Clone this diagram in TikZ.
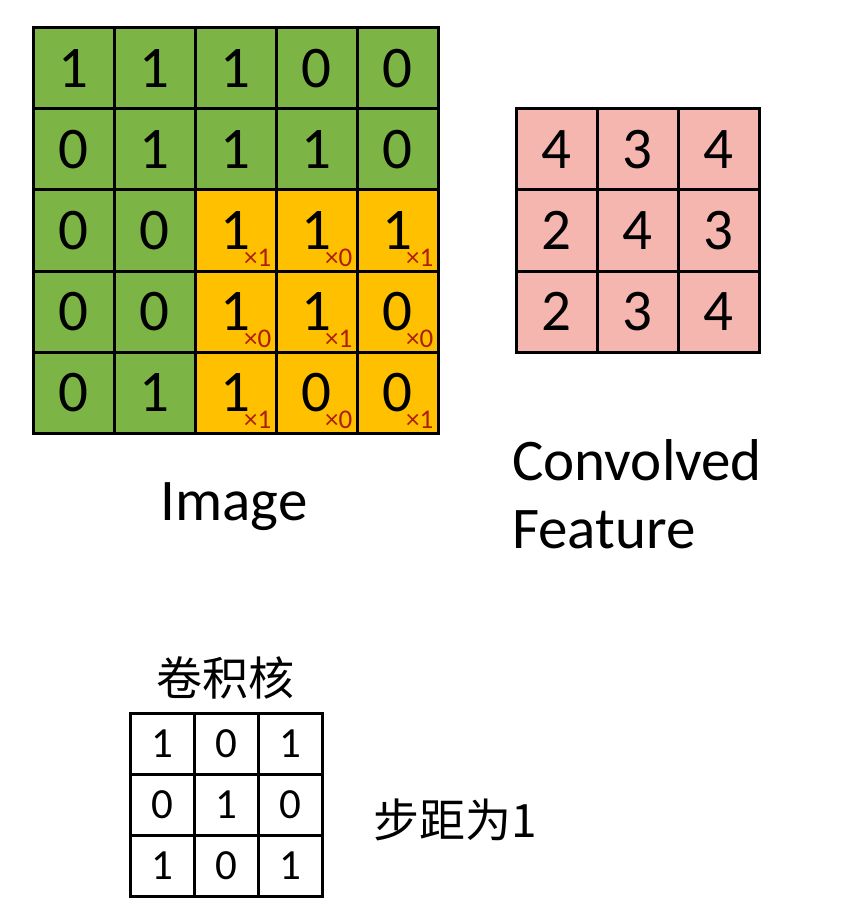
\documentclass[tikz,border=0pt]{standalone}
\usepackage{fontspec}
\setmainfont{Carlito}
\newfontfamily\cjk{Noto Sans CJK SC}
\definecolor{imggreen}{RGB}{124,181,70}
\definecolor{imgorange}{RGB}{255,192,0}
\definecolor{convpink}{RGB}{246,182,176}
\definecolor{subred}{RGB}{175,30,10}
\tikzset{
  bigcell/.style={draw=black, line width=3pt, minimum width=81pt, minimum height=81pt,
    inner sep=0pt, font=\fontsize{59}{59}\selectfont},
  kcell/.style={draw=black, line width=3pt, minimum width=64.3pt, minimum height=61pt,
    inner sep=0pt, font=\fontsize{43}{43}\selectfont},
  subtxt/.style={inner sep=0pt, text=subred, font=\fontsize{27}{27}\selectfont},
  labeltxt/.style={inner sep=0pt, font=\fontsize{59}{59}\selectfont},
  cjktxt/.style={inner sep=0pt, font=\cjk\fontsize{46}{46}\selectfont}
}
\begin{document}
\begin{tikzpicture}[x=1pt,y=-1pt]
\useasboundingbox[fill=white] (0,0) rectangle (846,909);
% Image grid
\foreach \row/\vals in {0/{1,1,1,0,0},1/{0,1,1,1,0},2/{0,0,1,1,1},3/{0,0,1,1,0},4/{0,1,1,0,0}}{
  \foreach \v [count=\c from 0] in \vals {
    \pgfmathtruncatemacro{\orng}{(\row>1)&&(\c>1)}
    \ifnum\orng=1 \def\fc{imgorange}\else\def\fc{imggreen}\fi
    \node[bigcell, fill=\fc] (img-\row-\c) at ({33+81*\c+40.5},{28+81*\row+40.5}) {\v};
  }
}
% kernel subscripts on the orange region
\foreach \row/\vals in {2/{1,0,1},3/{0,1,0},4/{1,0,1}}{
  \foreach \k [count=\c from 2] in \vals {
    \node[subtxt, anchor=base east] (sub-\row-\c) at ([xshift=-6pt,yshift=6pt]img-\row-\c.south east) {×\k};
  }
}
% Convolved feature grid
\foreach \row/\vals in {0/{4,3,4},1/{2,4,3},2/{2,3,4}}{
  \foreach \v [count=\c from 0] in \vals {
    \node[bigcell, fill=convpink] (conv-\row-\c) at ({516+81*\c+40.5},{109+81*\row+40.5}) {\v};
  }
}
% Kernel grid
\foreach \row/\vals in {0/{1,0,1},1/{0,1,0},2/{1,0,1}}{
  \foreach \v [count=\c from 0] in \vals {
    \node[kcell, fill=white] (ker-\row-\c) at ({130+64.3*\c+32.15},{713+61*\row+30.5}) {\v};
  }
}
% Labels
\node[labeltxt, anchor=base] (imglabel) at (234,520) {Image};
\node[labeltxt, anchor=base west] (convlabel1) at (512,480) {Convolved};
\node[labeltxt, anchor=base west] (convlabel2) at (512,548) {Feature};
\node[cjktxt] (kerlabel) at (225,678) {卷积核};
\node[cjktxt, anchor=west] (stridelabel) at (373,820) {步距为1};
\end{tikzpicture}
\end{document}
